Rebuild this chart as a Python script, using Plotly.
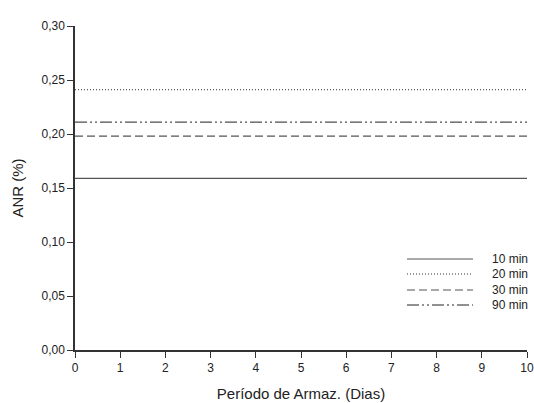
import plotly.graph_objects as go

days = [0, 10]
series_names = ["10 min", "20 min", "30 min", "90 min"]
anr_10 = [0.159, 0.159]
anr_20 = [0.241, 0.241]
anr_30 = [0.198, 0.198]
anr_90 = [0.211, 0.211]
x_ticks = list(range(0, 11))
y_ticks = [0.0, 0.05, 0.10, 0.15, 0.20, 0.25, 0.30]
y_tick_labels = ["0,00", "0,05", "0,10", "0,15", "0,20", "0,25", "0,30"]

styles = [
    dict(color="#555555", width=1.2, dash="solid"),
    dict(color="#333333", width=1, dash="1px,2px"),
    dict(color="#555555", width=1.2, dash="8px,4px"),
    dict(color="#222222", width=1, dash="12px,3px,2px,3px,2px,3px"),
]

FONT = "Liberation Sans, Arial"
W, H = 534, 403
L, R, T, B = 75, 7, 26, 53
pw, ph = W - L - R, H - T - B

fig = go.Figure()
for name, vals, st in zip(series_names, [anr_10, anr_20, anr_30, anr_90], styles):
    fig.add_trace(go.Scatter(x=days, y=vals, mode="lines", name=name, line=st, showlegend=False))

# manual legend (compact row spacing as in reference)
leg_x0, leg_x1, leg_tx = 407, 473, 490
leg_rows = [259, 274, 290, 305]
for name, st, py in zip(series_names, styles, leg_rows):
    yp = (H - B - py) / ph
    fig.add_shape(type="line", xref="paper", yref="paper",
                  x0=(leg_x0 - L) / pw, x1=(leg_x1 - L) / pw, y0=yp, y1=yp, line=st)
    fig.add_annotation(xref="paper", yref="paper", x=(leg_tx - L) / pw, y=yp,
                       text=name, showarrow=False, xanchor="left", yanchor="middle",
                       font=dict(family=FONT, size=12, color="#222222"))

axis_common = dict(
    showgrid=False, zeroline=False, showline=True, linecolor="#333333", linewidth=1.5,
    ticks="outside", ticklen=6, tickcolor="#333333", tickwidth=1.2, automargin=False,
    tickfont=dict(family=FONT, size=12, color="#222222"),
)
fig.update_xaxes(range=[0, 10], tickvals=x_ticks, **axis_common,
                 title=dict(text="Período de Armaz. (Dias)", font=dict(family=FONT, size=15, color="#222222"), standoff=14))
fig.update_yaxes(range=[0, 0.30], tickvals=y_ticks, ticktext=y_tick_labels, **axis_common,
                 title=dict(text="ANR (%)", font=dict(family=FONT, size=15, color="#222222"), standoff=14))

fig.update_layout(
    width=W, height=H,
    margin=dict(l=L, r=R, t=T, b=B),
    plot_bgcolor="white", paper_bgcolor="white",
    showlegend=False,
)
fig.write_html("out.html")
